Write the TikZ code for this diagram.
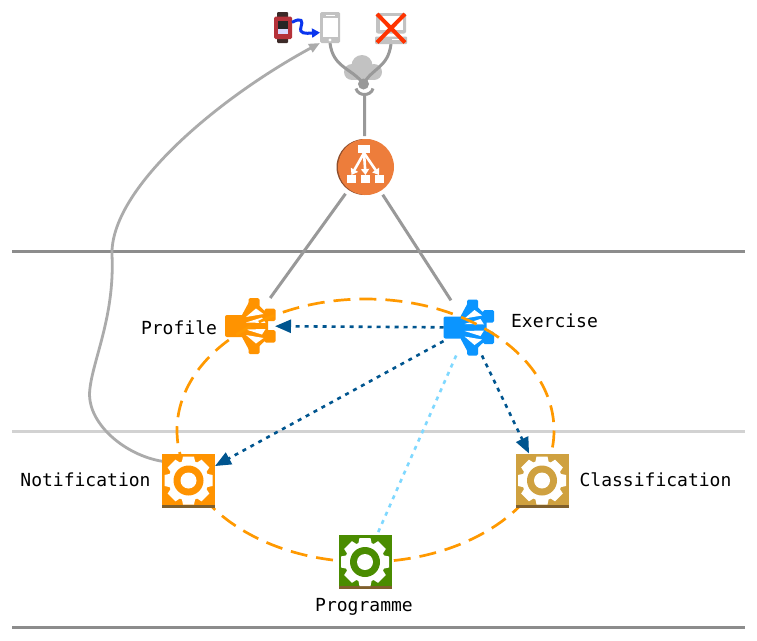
\documentclass[tikz,border=0pt]{standalone}
\usepackage{fontspec}
\setmonofont{DejaVu Sans Mono}
\usetikzlibrary{arrows.meta}
\definecolor{linegray}{HTML}{999999}
\definecolor{rulegray}{HTML}{8C8C8C}
\definecolor{rulelight}{HTML}{D2D2D2}
\definecolor{curvegray}{HTML}{ABABAB}
\definecolor{icongray}{HTML}{C2C2C2}
\definecolor{dashorange}{HTML}{FF9900}
\definecolor{dashblue}{HTML}{00558F}
\definecolor{skyblue}{HTML}{7FD8FF}
\definecolor{wireblue}{HTML}{0A35EE}
\definecolor{hubblue}{HTML}{0B95FF}
\definecolor{gearorange}{HTML}{FF9300}
\definecolor{geartan}{HTML}{CFA140}
\definecolor{geargreen}{HTML}{4A8C00}
\definecolor{barbrown}{HTML}{7F5F2C}
\definecolor{elborange}{HTML}{ED7D3B}
\definecolor{elbdark}{HTML}{8F4E2C}
\definecolor{watchred}{HTML}{B5323A}
\definecolor{strap}{HTML}{3C2A28}
\definecolor{crossred}{HTML}{FF3300}
\tikzset{
  x=1pt,y=-1pt,
  txt/.style={font=\ttfamily\fontsize{18}{20}\selectfont,text=black,inner sep=0pt},
  ghost/.style={inner sep=0pt,outer sep=0pt},
  gearnode/.style={ghost,minimum width=53pt,minimum height=54pt},
  hubnode/.style={ghost,minimum width=50pt,minimum height=56pt},
  rulebar/.style={line width=3pt},
  link/.style={draw=linegray,line width=3pt},
  probe/.style={draw=dashblue,line width=2.6pt,dash pattern=on 4pt off 5pt,-{Triangle[length=16pt,width=13pt]}},
  ringdash/.style={draw=dashorange,line width=2.7pt,dash pattern=on 17pt off 9pt},
  pics/gearicon/.style={code={
    \fill[#1] (-26.5,-27) rectangle (26.5,27);
    \fill[barbrown] (-26.5,24) rectangle (26.5,27);
    \fill[white] (0,0) circle[radius=20];
    \foreach \a in {0,45,...,315}{\fill[white,rotate=\a] (-5.5,-24) -- (5.5,-24) -- (7,-17) -- (-7,-17) -- cycle;}
    \fill[#1] (0,0) circle[radius=15];
    \fill[white] (0,0) circle[radius=8];
  }},
  pics/hubicon/.style={code={
    \fill[#1,rounded corners=2pt] (-25,-11) rectangle (-6,11);
    \fill[#1,rounded corners=1.5pt] (-1.5,-28) rectangle (9.5,-17);
    \fill[#1,rounded corners=1.5pt] (-1.5,17) rectangle (9.5,28);
    \fill[#1,rounded corners=1.5pt] (14.5,-17.5) rectangle (25.5,-5);
    \fill[#1,rounded corners=1.5pt] (14.5,4) rectangle (25.5,16.5);
    \fill[#1] (-8,-11) -- (-1,-24) -- (9.5,-20) -- (18,-12) -- (18,12) -- (9.5,20) -- (-1,24) -- (-8,11) -- cycle;
    \fill[white] (-4,-9) -- (6,-17.5) -- (13.5,-12) -- cycle;
    \fill[white] (-4,9) -- (6,17.5) -- (13.5,12) -- cycle;
    \fill[white] (-4,-3.5) -- (12,-8.5) -- (15.5,-3) -- cycle;
    \fill[white] (-4,3.5) -- (12,8.5) -- (15.5,3) -- cycle;
  }}
}
\begin{document}
\begin{tikzpicture}
\useasboundingbox (0,0) rectangle (757,640);
\fill[white] (0,0) rectangle (757,640);

% rules
\coordinate (r1a) at (12,251); \coordinate (r1b) at (745,251);
\coordinate (r2a) at (12,431); \coordinate (r2b) at (745,431);
\coordinate (r3a) at (12,627); \coordinate (r3b) at (745,627);
\draw[rulebar,rulegray] (r1a) -- (r1b);
\draw[rulebar,rulelight] (r2a) -- (r2b);
\draw[rulebar,rulegray] (r3a) -- (r3b);

% named icon places
\node[ghost,minimum width=18pt,minimum height=31pt] (watch) at (283,27.5) {};
\node[ghost,minimum width=20pt,minimum height=31pt] (phone) at (330,27.5) {};
\node[ghost,minimum width=32pt,minimum height=31pt] (laptop) at (391,28.5) {};
\node[ghost,minimum width=38pt,minimum height=25pt] (cloud) at (363,67.5) {};
\coordinate (junction) at (363.5,84);
\coordinate (socket) at (364.5,95);
\node[ghost,minimum width=62pt,minimum height=62pt,circle] (elb) at (364.8,167) {};
\node[hubnode] (profile) at (250,326) {};
\node[hubnode] (exercise) at (468.5,327.5) {};
\node[gearnode] (notification) at (188.5,480.5) {};
\node[gearnode] (classification) at (542,480.5) {};
\node[gearnode] (programme) at (365,562) {};

% cloud
\fill[icongray] (352,72) circle[radius=8];
\fill[icongray] (362,65.5) circle[radius=10.5];
\fill[icongray] (374,72) circle[radius=8];
\fill[icongray] (352,70) rectangle (374,80);

% phone, laptop links
\draw[link] (phone.south) .. controls (333,68) and (352,68) .. (junction);
\draw[link] (laptop.south) .. controls (388,68) and (372,68) .. (junction);
\fill[linegray] (junction) circle[radius=5.5];
\draw[link] (356,88.5) .. controls (358,96.5) and (371,96.5) .. (373,88.5);
\draw[link] (socket) -- (elb);

% watch
\fill[strap,rounded corners=1pt] (277,12) rectangle (288,43);
\fill[watchred,rounded corners=1.5pt] (274,16.5) rectangle (292,39);
\fill[black!85] (277.5,20.5) rectangle (287.5,34);
\fill[white!85!blue] (277.5,29) rectangle (287.5,33.5);

% phone
\fill[icongray,rounded corners=1.5pt] (phone.south west) rectangle (phone.north east);
\fill[white] (322.5,18) rectangle (337.5,37);
\fill[white] (325.5,14.5) rectangle (334.5,16);
\fill[white] (330,40) circle[radius=1.7];

% laptop
\fill[icongray,rounded corners=2pt] (376,13) rectangle (406,33.5);
\fill[white] (379.5,16) rectangle (402.5,30);
\fill[icongray,rounded corners=1pt] (375,36.5) rectangle (407,44);
\fill[white] (392,38.5) rectangle (404,39.5);
\draw[crossred,line width=4pt] (377,14) -- (405,42.5);
\draw[crossred,line width=4pt] (405,14) -- (377,42.5);

% watch to phone
\draw[draw=wireblue,line width=3pt,-{Triangle[length=8pt,width=9pt]}]
  (watch.30) .. controls (302,17) and (303,21) .. (301,27)
  .. controls (299,34) and (305,33.5) .. (phone.207);

% load balancer
\fill[elbdark] (364.5,167) circle[radius=28];
\begin{scope}
\clip (336.5,139) rectangle (394,196);
\fill[elborange] (366,167) circle[radius=28];
\end{scope}
\fill[white] (358,144.5) rectangle (369.5,153);
\fill[white] (347,175) rectangle (356,183);
\fill[white] (361,175) rectangle (370,183);
\fill[white] (374.5,175) rectangle (383.5,183);
\draw[white,line width=2.6pt,-{Triangle[length=6pt,width=8pt]}] (364,153) -- (351.5,175);
\draw[white,line width=2.6pt,-{Triangle[length=6pt,width=8pt]}] (364,153) -- (365.5,175);
\draw[white,line width=2.6pt,-{Triangle[length=6pt,width=8pt]}] (364,153) -- (379,175);

% tiers
\draw[link,shorten <=2pt,shorten >=0pt] (elb) -- (profile);
\draw[link,shorten <=2pt,shorten >=-1pt] (elb) -- (exercise);

% hubs
\pic at (profile.center) {hubicon=gearorange};
\pic at (exercise.center) {hubicon=hubblue};

% ring
\node[ghost,minimum width=1pt] (ringcentre) at (365.5,430.5) {};
\draw[ringdash] (ringcentre) ellipse[x radius=188.5,y radius=131.5];

% gears
\pic at (notification.center) {gearicon=gearorange};
\pic at (classification.center) {gearicon=geartan};
\pic at (programme.center) {gearicon=geargreen};

% connectors
\draw[probe] (exercise) -- (profile);
\draw[probe] (exercise) -- (notification);
\draw[probe] (exercise) -- (classification);
\draw[draw=skyblue,line width=2.6pt,dash pattern=on 4pt off 5pt] (exercise) -- (programme);
\draw[draw=curvegray,line width=2.8pt,-{Triangle[length=11pt,width=9pt]}]
  (notification.144) .. controls (125,455) and (90,425) .. (89.5,395)
  .. controls (90,365) and (115,320) .. (112,255)
  .. controls (110,190) and (215,100) .. (phone.south west);

% labels
\node[txt,anchor=base] (lprofile) at (179,334) {Profile};
\node[txt,anchor=base] (lexercise) at (554.5,327) {Exercise};
\node[txt,anchor=base] (lnotification) at (85.5,486) {Notification};
\node[txt,anchor=base] (lclassification) at (655.5,486) {Classification};
\node[txt,anchor=base] (lprogramme) at (364,611) {Programme};
\end{tikzpicture}
\end{document}
